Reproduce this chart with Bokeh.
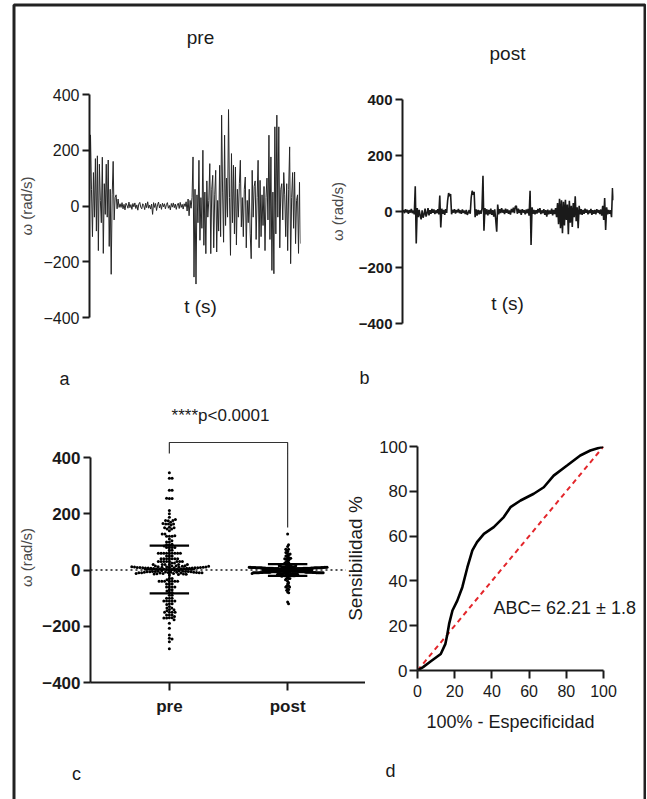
import numpy as np
from bokeh.plotting import figure
from bokeh.layouts import row, column
from bokeh.models import Range1d, FixedTicker, Label, Spacer, BoxAnnotation
from bokeh.embed import file_html
from bokeh.resources import INLINE

FONT = "Liberation Sans"
INK = "#1a1a1a"
GREY = "#4a4a4a"

# ---------------- data ----------------
pre_signal = [
    0, 255, 60, -110, 120, -40, 170, -90, 180, -160, 150, 20, -60, 175, -170,
    80, -30, 150, -40, 165, -145, 60, -245, 40, 160, -50, 30, 40,
    -10, 25, -5,
    8, -5, 12, -10, 6, -14, 10, 3, -8, 14, -6, 5, -12, 9, -3, 11, -9, 4, -15, 7,
    13, -4, -10, 8, 2, -13, 10, -6, 15, -8, 3, -11, 7, -30, 12, -5, 9, -16, 4, 14,
    -7, 6, -12, 10, -3, 8, -10, 5, 12, -8, 2, -14, 9, -4, 11, -6, 7, -12, 4, 10,
    -9, 13, -5, 6, -11, 8, -2, 15, -18, 25, -35, 20, -8, 30,
    176, -255, 60, -280, 40, -60, 164, -123, 30, -80, 200, -141, 50, -171, 90,
    -40, 20, 152, -171, 60, 110, -150, 40, 128, -165, 20, -90, 146, -110, 326,
    50, -130, 254, -70, 100, -40, 346, 30, -177, 188, -60, 146, -100, 140, -140,
    60, -40, 80, 164, -75, 30, -110, 60, 104, -150, 20, -60, 60, -100, -189,
    128, -40, 70, 90, -120, 30, 164, -150, 92, -110, 40, -70, 70, -160, 30,
    100, -50, 254, -120, 176, -231, 50, -243, 284, -100, 326, -40, 284, -150, 60,
    80, -50, 120, 40, -110, 80, -160, 60, 212, -207, 30, 120, -80, 122, -135,
    20, 40, -170, 85, -135,
]

post_signal = [
    0, 4, -6, 8, -3, 6, -8, 5, -4, 9, -6, 3, -10, 90, -114, 12, -20, 6, -15, -28,
    4, -22, -10, 10, -18, -6, 12, -14, 5, -8, 9, -5, 7, -9, 4, -6, 8, -10, 57, -57,
    10, -8, 6, -12, 8, -5, 40, 66, 55, 62, -10, 6, -4, 8, -7, 5, -3, 9, -6, 4,
    -8, 7, -5, 3, -9, 6, -12, -4, 5, -8, 50, 74, 60, 70, -20, 8, -15, 6, -10, 4,
    -8, 10, 128, -69, 12, -10, 8, -14, 6, -9, 10, -12, 5, -18, 8, -30, -72, 25, -10, 8,
    -6, 12, -4, 6, -9, 10, -5, 7, -8, 4, -11, 9, -3, 14, -6, 18, 20, -8, 10, -5,
    6, -12, 8, -4, 5, -10, 7, -6, 9, -15, 74, -120, 15, -8, 6, -10, 5, -7, 9, -4,
    12, -9, 4, -6, 8, -12, 5, -18, 7, -10, 4, -8, 10, -14, 6, -9, 12, -20, 30, -45,
    45, -60, 40, -78, 35, -50, 42, -30, 25, -81, 38, -40, 20, -55, 30, -20, 54, -35, 15, -60,
    20, -10, 8, -12, 6, -8, 10, -5, 7, -10, 4, -6, 9, -12, 5, -8, 6, -10, 8, -4,
    5, -9, 7, -15, 20, -30, 48, -66, 15, -10, 6, -8, 5, -20, 84, 40,
]

groups = ["pre", "post"]
group_mean = [2, 0]          # mean line
group_sd = [85, 21]          # SD whiskers
omega_ticks = [-400, -200, 0, 200, 400]

roc_fpr = [0, 3, 7, 12.5, 15, 16, 17, 18.8, 21.4, 24.1, 26.8, 29.5, 32, 35.7,
           41, 46.4, 50, 55.4, 62.5, 67.9, 73.2, 80.4, 87.5, 92.9, 100]
roc_tpr = [0, 1.5, 4, 7.4, 11.9, 16, 20.8, 26.8, 31.2, 37.2, 46, 53.6, 57.3, 61,
           64, 68.5, 72.9, 75.9, 78.9, 81.8, 87, 91.5, 96, 98.2, 100]
chance_x = [0, 100]
chance_y = [0, 100]
roc_ticks = [0, 20, 40, 60, 80, 100]

auc_text = "ABC= 62.21 \u00b1 1.8"
p_text = "****p<0.0001"

# ---------------- layout geometry (page pixels) ----------------
OX, OY = 15, 6          # inner content origin (inside frame border)
TOP_H, BOT_H = 390, 403
PAGE_W, PAGE_H = 646, 799


def mk_fig(fig_left, fig_top, fig_w, fig_h, frame, xr, yr):
    fl, fr, ft, fb = frame
    p = figure(width=fig_w, height=fig_h,
               x_range=Range1d(*xr), y_range=Range1d(*yr),
               min_border_left=fl - fig_left,
               min_border_right=fig_left + fig_w - fr,
               min_border_top=ft - fig_top,
               min_border_bottom=fig_top + fig_h - fb,
               output_backend="svg", toolbar_location=None)
    p.grid.visible = False
    p.outline_line_color = None
    p.background_fill_alpha = 0
    p.border_fill_alpha = 0
    return p


def style_axis(ax, size, bold, tick_out=7, standoff=3):
    ax.axis_line_width = 2
    ax.axis_line_color = INK
    ax.major_tick_line_width = 2
    ax.major_tick_line_color = INK
    ax.major_tick_out = tick_out
    ax.major_tick_in = 0
    ax.minor_tick_line_color = None
    ax.major_label_text_font = FONT
    ax.major_label_text_font_size = f"{size}px"
    ax.major_label_text_font_style = "bold" if bold else "normal"
    ax.major_label_text_color = INK
    ax.major_label_standoff = standoff
    ax.axis_label_text_font = FONT
    ax.axis_label_text_font_style = "normal"


# ---------------- panel a ----------------
t_pre = np.arange(len(pre_signal))
pA = mk_fig(OX, OY, 310, TOP_H, (85, 300, 94, 317),
            (0, len(pre_signal) - 1), (-400, 400))
pA.line(t_pre, pre_signal, line_color="#262626", line_width=1)
pA.xaxis.visible = False
pA.yaxis.ticker = FixedTicker(ticks=omega_ticks)
style_axis(pA.yaxis[0], 16, False)
pA.yaxis.axis_label = "\u03c9 (rad/s)"
pA.yaxis.axis_label_text_font_size = "15px"
pA.yaxis.axis_label_text_color = GREY
pA.yaxis.axis_label_standoff = 5

# ---------------- panel b ----------------
t_post = np.arange(len(post_signal))
pB = mk_fig(OX + 310, OY, 318, TOP_H, (397, 613, 99, 323),
            (0, len(post_signal) - 1), (-400, 400))
pB.line(t_post, post_signal, line_color=INK, line_width=1.6)
pB.xaxis.visible = False
pB.yaxis.ticker = FixedTicker(ticks=omega_ticks)
style_axis(pB.yaxis[0], 15, True)
pB.yaxis.axis_label = "\u03c9 (rad/s)"
pB.yaxis.axis_label_text_font_size = "15px"
pB.yaxis.axis_label_text_color = GREY
pB.yaxis.axis_label_standoff = 10

# ---------------- panel c ----------------
C_TOP_AX, C_BOT_AX = 457, 682          # pixel rows of +400 / -400
C_FRAME_TOP = 432
C_LEFT, C_RIGHT = 86, 365
units_per_px = 800 / (C_BOT_AX - C_TOP_AX)
c_ymax = 400 + (C_TOP_AX - C_FRAME_TOP) * units_per_px
c_px_per_x = 120.0                      # pixels between the two groups
c_x0 = -(166 - C_LEFT) / c_px_per_x
c_x1 = 1 + (C_RIGHT - 286) / c_px_per_x
pC = mk_fig(OX, OY + TOP_H, C_RIGHT - OX, BOT_H,
            (C_LEFT, C_RIGHT, C_FRAME_TOP, C_BOT_AX), (c_x0, c_x1), (-400, c_ymax))


def swarm(vals, diam, px_per_unit, max_half_width):
    ys = np.asarray(vals, float) * px_per_unit
    order = np.argsort(np.abs(ys), kind="stable")
    px, py = [], []
    out = np.zeros(len(ys))
    for i in order:
        y = ys[i]
        cands = [0.0]
        for xx, yy in zip(px, py):
            dy = y - yy
            if abs(dy) < diam:
                dx = np.sqrt(diam * diam - dy * dy)
                cands += [xx + dx, xx - dx]
        cands.sort(key=abs)
        for c in cands:
            ok = True
            for xx, yy in zip(px, py):
                if (c - xx) ** 2 + (y - yy) ** 2 < diam * diam - 1e-6:
                    ok = False
                    break
            if ok:
                break
        px.append(c)
        py.append(y)
        out[i] = c
    widest = np.max(np.abs(out))
    if widest > max_half_width:
        out = out * (max_half_width / widest)
    return out


# dotted zero line (stops short of panel d's axis title)
zero_end = c_x0 + (345 - C_LEFT) / c_px_per_x
pC.line([c_x0, zero_end], [0, 0], line_color=INK, line_width=1.5, line_dash="2 3")

ypx = 1.0 / units_per_px
for gi, vals in enumerate([pre_signal, post_signal]):
    offs = swarm(vals, 2.8, ypx, 40.0) / c_px_per_x
    pC.scatter(gi + offs, vals, size=3.0, color="black", line_color=None)
    m, sd = group_mean[gi], group_sd[gi]
    half_cap = 20 / c_px_per_x
    half_mean = 26 / c_px_per_x
    pC.segment(x0=[gi - half_cap, gi - half_cap, gi - half_mean],
               y0=[m + sd, m - sd, m],
               x1=[gi + half_cap, gi + half_cap, gi + half_mean],
               y1=[m + sd, m - sd, m], line_color="black", line_width=2.2)
    pC.segment(x0=[gi], y0=[m - sd], x1=[gi], y1=[m + sd],
               line_color="black", line_width=2)

# significance bracket
br_top = 400 + (C_TOP_AX - 442) * units_per_px
br_left = max(pre_signal) + 68
br_right = max(post_signal) + 23
pC.line([0, 0, 1, 1], [br_left, br_top, br_top, br_right],
        line_color="#333333", line_width=1.2)

pC.yaxis.ticker = FixedTicker(ticks=omega_ticks)
pC.yaxis.bounds = (-400, 400)
style_axis(pC.yaxis[0], 17, True)
pC.yaxis.axis_label = "\u03c9 (rad/s)"
pC.yaxis.axis_label_text_font_size = "15px"
pC.yaxis.axis_label_text_color = GREY
pC.yaxis.axis_label_standoff = 4
pC.xaxis.ticker = FixedTicker(ticks=[0, 1])
pC.xaxis.major_label_overrides = {0: groups[0], 1: groups[1]}
style_axis(pC.xaxis[0], 17, True, tick_out=8, standoff=6)

# ---------------- panel d ----------------
D_LEFT = 342
pD = mk_fig(D_LEFT, OY + TOP_H, OX + 628 - D_LEFT, BOT_H, (417, 603, 446, 670),
            (0, 100), (0, 100))
pD.line(chance_x, chance_y, line_color="#e3262b", line_width=2,
        line_dash="5 4")
pD.line(roc_fpr, roc_tpr, line_color="black", line_width=2.6)
pD.xaxis.ticker = FixedTicker(ticks=roc_ticks)
pD.yaxis.ticker = FixedTicker(ticks=roc_ticks)
style_axis(pD.xaxis[0], 16, False, tick_out=8, standoff=6)
style_axis(pD.yaxis[0], 17, False, tick_out=8, standoff=2)
pD.xaxis.axis_label = "100% - Especificidad"
pD.xaxis.axis_label_text_font_size = "18px"
pD.xaxis.axis_label_text_color = INK
pD.xaxis.axis_label_standoff = 12
pD.yaxis.axis_label = "Sensibilidad %"
pD.yaxis.axis_label_text_font_size = "19px"
pD.yaxis.axis_label_text_color = INK
pD.yaxis.axis_label_standoff = 10

# ---------------- text + frame layer (page-pixel coordinates) ----------------
ov = figure(width=PAGE_W, height=PAGE_H, x_range=Range1d(0, PAGE_W),
            y_range=Range1d(PAGE_H, 0), min_border=0,
            x_axis_location=None, y_axis_location=None,
            output_backend="svg", toolbar_location=None,
            margin=(-PAGE_H, 0, 0, 0))
ov.grid.visible = False
ov.outline_line_color = None
ov.background_fill_alpha = 0
ov.border_fill_alpha = 0
ov.add_layout(BoxAnnotation(left=13.5, right=644.5, top=4.5, bottom=PAGE_H + 20,
                            fill_alpha=0, line_color="#222222", line_alpha=1.0,
                            line_width=3))


def add_text(px, py, text, size, style="normal", color=INK, align="center"):
    ov.add_layout(Label(x=px, y=py, text=text, text_font=FONT,
                        text_font_size=f"{size}px", text_font_style=style,
                        text_color=color, text_align=align,
                        text_baseline="middle"))


add_text(200, 37, "pre", 19)
add_text(507, 53, "post", 19)
add_text(200, 306, "t (s)", 19)
add_text(507, 303, "t (s)", 19)
add_text(64, 378, "a", 18)
add_text(364, 377, "b", 18)
add_text(220, 415, p_text, 17)
add_text(76, 773, "c", 18)
add_text(493, 607, auc_text, 18, align="left")
add_text(390, 770, "d", 18)

# ---------------- assemble ----------------
content = column(
    row(column(pA), column(pB)),
    row(column(pC), column(pD, margin=(0, 0, 0, -(C_RIGHT - D_LEFT)))),
)
main = column(Spacer(width=PAGE_W, height=OY),
              row(Spacer(width=OX, height=PAGE_H - OY), content))
page = column(main, ov)

open("out.html", "w").write(file_html(page, INLINE))
